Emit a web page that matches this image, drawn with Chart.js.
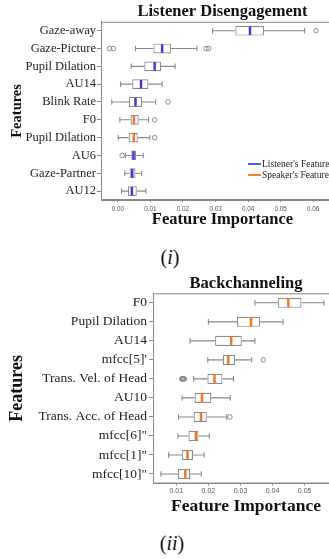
<!DOCTYPE html>
<html>
<head>
<meta charset="utf-8">
<script src="https://cdn.jsdelivr.net/npm/chart.js@4/dist/chart.umd.min.js"></script>
<style>
  html, body { margin:0; padding:0; background:#fff; }
  body { width:329px; height:559px; overflow:hidden; position:relative; }
  .abs { position:absolute; }
  .legend { font-family:"Liberation Serif", serif; font-size:9.5px; color:#222; white-space:nowrap; }
  .legend .row { display:flex; align-items:center; height:10.7px; }
  .legend .ln { width:13px; height:2px; margin-right:1px; }
  .sub { font-family:"Liberation Serif", serif; font-size:20px; color:#111; text-align:center; line-height:24px; }
</style>
</head>
<body>
<div class="abs" style="left:0;top:0;"><canvas id="c1" width="349" height="230"></canvas></div>
<div class="abs legend" style="left:248px;top:159px;">
  <div class="row"><span class="ln" style="background:#5858e2"></span><span>Listener's Features</span></div>
  <div class="row"><span class="ln" style="background:#fb7d2a"></span><span>Speaker's Features</span></div>
</div>
<div class="abs sub" style="left:130px;top:245px;width:80px;">(<i>i</i>)</div>
<div class="abs" style="left:0;top:268px;"><canvas id="c2" width="350" height="249"></canvas></div>
<div class="abs sub" style="left:132px;top:531px;width:80px;">(<i>ii</i>)</div>

<script>
// ---------- Chart (i): Listener Disengagement ----------
const ldFeatures = ['Gaze-away','Gaze-Picture','Pupil Dilation','AU14','Blink Rate','F0','Pupil Dilation','AU6','Gaze-Partner','AU12'];
const ldMin    = [0.0291, 0.0054, 0.0041, 0.0008, -0.0019, 0.0006, 0.0001, 0.0023, 0.0021, 0.0011];
const ldQ1     = [0.0361, 0.0109, 0.0081, 0.0044,  0.0034, 0.0039, 0.0033, 0.0041, 0.0036, 0.0031];
const ldMedian = [0.0406, 0.0136, 0.0113, 0.0071,  0.0054, 0.0049, 0.0049, 0.0048, 0.0044, 0.0043];
const ldQ3     = [0.0449, 0.0163, 0.0133, 0.0094,  0.0074, 0.0064, 0.0061, 0.0056, 0.0054, 0.0058];
const ldMax    = [0.0574, 0.0243, 0.0176, 0.0136,  0.0116, 0.0094, 0.0098, 0.0078, 0.0073, 0.0086];
const ldGroup  = ['listener','listener','listener','listener','listener','speaker','speaker','listener','listener','listener'];
const ldOutlierFeature = [0, 1, 1, 1, 1, 4, 5, 6, 7];
const ldOutlierValue   = [0.0609, -0.0026, -0.0014, 0.0271, 0.0279, 0.0154, 0.0113, 0.0113, 0.0013];
const ldTicks = [0.00, 0.01, 0.02, 0.03, 0.04, 0.05, 0.06];

// ---------- Chart (ii): Backchanneling ----------
const bcFeatures = ['F0','Pupil Dilation','AU14',"mfcc[5]'",'Trans. Vel. of Head','AU10','Trans. Acc. of Head','mfcc[6]"','mfcc[1]"','mfcc[10]"'];
const bcMin    = [0.0345, 0.0200, 0.0143, 0.0198, 0.0154, 0.0118, 0.0107, 0.0105, 0.0076, 0.0052];
const bcQ1     = [0.0416, 0.0289, 0.0221, 0.0245, 0.0197, 0.0157, 0.0154, 0.0138, 0.0118, 0.0105];
const bcMedian = [0.0449, 0.0333, 0.0271, 0.0262, 0.0219, 0.0180, 0.0177, 0.0161, 0.0135, 0.0128];
const bcQ3     = [0.0490, 0.0361, 0.0304, 0.0283, 0.0244, 0.0209, 0.0195, 0.0169, 0.0152, 0.0143];
const bcMax    = [0.0560, 0.0433, 0.0345, 0.0335, 0.0278, 0.0268, 0.0257, 0.0203, 0.0187, 0.0178];
const bcGroup  = ['speaker','speaker','speaker','speaker','speaker','speaker','speaker','speaker','speaker','speaker'];
const bcOutlierFeature = [3, 4, 4, 4, 4, 4, 6];
const bcOutlierValue   = [0.0371, 0.0117, 0.0119, 0.0121, 0.0123, 0.0125, 0.0267];
const bcTicks = [0.01, 0.02, 0.03, 0.04, 0.05, 0.06];

const GROUP_COLORS = { listener: '#3d3dd8', speaker: '#f77624' };
const GRAY = '#8a8a8a';
const SERIF = '"Liberation Serif", "Times New Roman", serif';
const SANS = '"Liberation Sans", Arial, sans-serif';

function makeBoxPlugin(st) {
  return {
    id: 'boxParts',
    beforeDatasetsDraw(chart) {
      const {ctx, scales: {x, y}} = chart;
      const meta = chart.getDatasetMeta(0);
      ctx.save();
      ctx.strokeStyle = GRAY;
      ctx.lineWidth = 1.1;
      st.min.forEach((mn, i) => {
        const yc = y.getPixelForValue(i);
        const h = meta.data[i].height;
        const cap = h * 0.28;
        const pMin = x.getPixelForValue(mn), pQ1 = x.getPixelForValue(st.q1[i]);
        const pQ3 = x.getPixelForValue(st.q3[i]), pMax = x.getPixelForValue(st.max[i]);
        ctx.beginPath();
        ctx.moveTo(pMin, yc); ctx.lineTo(pQ1, yc);
        ctx.moveTo(pQ3, yc); ctx.lineTo(pMax, yc);
        ctx.moveTo(pMin, yc - cap); ctx.lineTo(pMin, yc + cap);
        ctx.moveTo(pMax, yc - cap); ctx.lineTo(pMax, yc + cap);
        ctx.stroke();
      });
      ctx.restore();
    },
    afterDatasetsDraw(chart) {
      const {ctx, scales: {x, y}, chartArea} = chart;
      const meta = chart.getDatasetMeta(0);
      ctx.save();
      ctx.lineWidth = 2.5;
      st.median.forEach((md, i) => {
        const yc = y.getPixelForValue(i);
        const h = meta.data[i].height;
        const px = x.getPixelForValue(md);
        ctx.strokeStyle = GROUP_COLORS[st.group[i]];
        ctx.beginPath();
        ctx.moveTo(px, yc - h / 2 + 0.6);
        ctx.lineTo(px, yc + h / 2 - 0.6);
        ctx.stroke();
      });
      ctx.strokeStyle = GRAY;
      ctx.lineWidth = 1;
      ctx.strokeRect(chartArea.left + 0.5, chartArea.top + 0.5, chartArea.right - chartArea.left, chartArea.bottom - chartArea.top - 1);
      ctx.restore();
    }
  };
}

function buildChart(id, c) {
  const boxes = c.q1.map((q, i) => [q, c.q3[i]]);
  const outliers = c.outIdx.map((k, j) => ({ x: c.outVal[j], y: k }));
  return new Chart(document.getElementById(id), {
    type: 'bar',
    data: {
      labels: c.labels,
      datasets: [
        { type: 'bar', label: 'IQR', data: boxes, backgroundColor: '#ffffff', borderColor: GRAY,
          borderWidth: 1.2, borderSkipped: false, barPercentage: c.barPct, categoryPercentage: 1, order: 2 },
        { type: 'scatter', label: 'Outliers', data: outliers, parsing: false, pointRadius: c.r,
          pointBackgroundColor: 'rgba(255,255,255,0)', pointBorderColor: GRAY, pointBorderWidth: 1, order: 1 }
      ]
    },
    options: {
      indexAxis: 'y', responsive: false, animation: false, devicePixelRatio: 1,
      layout: { padding: { left: 0, right: c.padR, top: 0, bottom: 0 } },
      plugins: {
        legend: { display: false }, tooltip: { enabled: false },
        title: { display: true, text: c.title, fullSize: false, color: '#111',
          font: { family: SERIF, size: c.titleSize, weight: 'bold', lineHeight: 1.2 },
          padding: { top: c.titlePadTop, bottom: 0 } }
      },
      scales: {
        x: {
          type: 'linear', position: 'bottom', min: c.xMin, max: c.xMax,
          afterFit: s => { s.height = c.xAxisH; },
          afterBuildTicks: s => { s.ticks = c.ticks.map(v => ({ value: v })); },
          ticks: { callback: v => Number(v).toFixed(2), color: '#555', padding: c.xTickPad,
            font: { family: SANS, size: c.xTickSize }, maxRotation: 0, autoSkip: false },
          grid: { drawOnChartArea: false, drawTicks: true, tickLength: 2, color: GRAY },
          border: { display: true, color: GRAY },
          title: { display: true, text: 'Feature Importance', color: '#111',
            font: { family: SERIF, size: c.xTitleSize, weight: 'bold', lineHeight: 1.2 }, padding: { top: 0, bottom: 0 } }
        },
        y: {
          type: 'category', position: 'left', offset: true,
          afterFit: s => { s.width = c.yAxisW; },
          ticks: { color: '#222', padding: c.yTickPad, autoSkip: false, font: { family: SERIF, size: c.yTickSize } },
          grid: { drawOnChartArea: false, drawTicks: true, tickLength: 4, offset: false, color: GRAY },
          border: { display: true, color: GRAY },
          title: { display: true, text: 'Features', color: '#111',
            font: { family: SERIF, size: c.yTitleSize, weight: 'bold', lineHeight: 1.2 }, padding: { top: c.yTitlePad, bottom: 0 } }
        }
      }
    },
    plugins: [makeBoxPlugin({ min: c.min, q1: c.q1, median: c.median, q3: c.q3, max: c.max, group: c.group })]
  });
}

buildChart('c1', {
  labels: ldFeatures, min: ldMin, q1: ldQ1, median: ldMedian, q3: ldQ3, max: ldMax, group: ldGroup,
  outIdx: ldOutlierFeature, outVal: ldOutlierValue, ticks: ldTicks,
  title: 'Listener Disengagement', titleSize: 16.5, titlePadTop: 2,
  xMin: -0.0052, xMax: 0.0695, xAxisH: 30, xTickPad: 3, xTickSize: 6.3, xTitleSize: 16.5,
  yAxisW: 101, yTickPad: 1, yTickSize: 12.5, yTitleSize: 14.5, yTitlePad: 8.3,
  barPct: 0.55, r: 2.3, padR: 0
});

buildChart('c2', {
  labels: bcFeatures, min: bcMin, q1: bcQ1, median: bcMedian, q3: bcQ3, max: bcMax, group: bcGroup,
  outIdx: bcOutlierFeature, outVal: bcOutlierValue, ticks: bcTicks,
  title: 'Backchanneling', titleSize: 16.5, titlePadTop: 5.5,
  xMin: 0.00274, xMax: 0.0607, xAxisH: 33.5, xTickPad: 1, xTickSize: 7, xTitleSize: 17.5,
  yAxisW: 153, yTickPad: 2, yTickSize: 13.5, yTitleSize: 18, yTitlePad: 6.7,
  barPct: 0.53, r: 2.3, padR: 11
});
</script>
</body>
</html>
